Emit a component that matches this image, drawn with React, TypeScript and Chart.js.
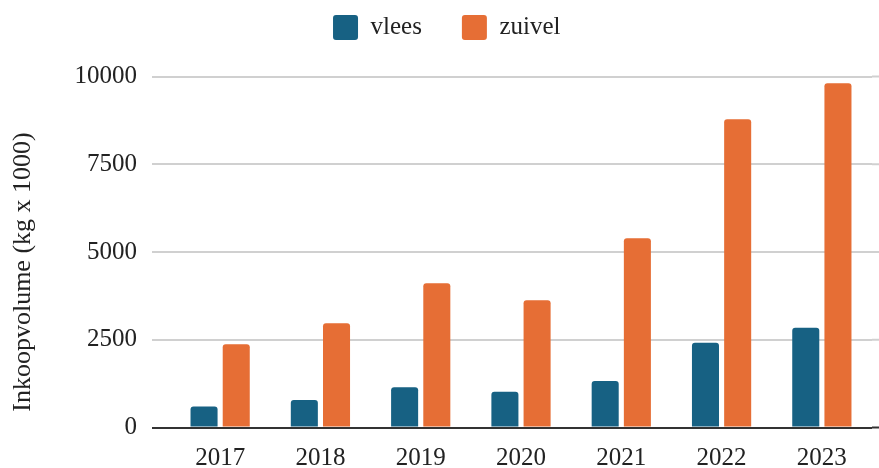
import React, { useEffect, useRef } from "react";
import { Chart, registerables } from "chart.js";

Chart.register(...registerables);

const years = ["2017", "2018", "2019", "2020", "2021", "2022", "2023"];
const vlees = [600, 785, 1145, 1020, 1325, 2415, 2845];
const zuivel = [2370, 2970, 4110, 3625, 5390, 8780, 9805];
const seriesNames = ["vlees", "zuivel"];
const seriesColors = ["#176183", "#e66e35"];
const yTitle = "Inkoopvolume (kg x 1000)";

const FONT = "'Liberation Serif', 'Times New Roman', serif";
const TEXT = "#222222";

export default function App() {
  const ref = useRef<HTMLCanvasElement | null>(null);

  useEffect(() => {
    document.body.style.margin = "0";
    const canvas = ref.current;
    if (!canvas) return;

    const legendFix = {
      id: "legendFix",
      beforeInit(chart: any) {
        const lg = chart.legend;
        if (lg) {
          const orig = lg.fit;
          lg.fit = function () {
            orig.call(this);
            this.height = 101.5;
          };
        }
      },
    };

    const extras = {
      id: "extras",
      afterDraw(chart: any) {
        const ctx = chart.ctx;
        const area = chart.chartArea;
        const y = chart.scales.y;
        ctx.save();
        y.ticks.forEach((t: any) => {
          const py = y.getPixelForValue(t.value);
          ctx.beginPath();
          ctx.lineWidth = 2;
          ctx.strokeStyle = t.value === 0 ? "#333333" : "#d0d0d0";
          ctx.moveTo(area.right, py);
          ctx.lineTo(area.right + 7, py);
          ctx.stroke();
        });
        ctx.translate(23, 272);
        ctx.rotate(-Math.PI / 2);
        ctx.font = `26px ${FONT}`;
        ctx.fillStyle = TEXT;
        ctx.textAlign = "center";
        ctx.textBaseline = "middle";
        ctx.fillText(yTitle, 0, 0);
        ctx.restore();
      },
    };

    const chart = new Chart(canvas, {
      type: "bar",
      data: {
        labels: years,
        datasets: [
          {
            label: seriesNames[0],
            data: vlees,
            backgroundColor: seriesColors[0],
            borderRadius: 3,
            categoryPercentage: 0.642,
            barPercentage: 0.84,
          },
          {
            label: seriesNames[1],
            data: zuivel,
            backgroundColor: seriesColors[1],
            borderRadius: 3,
            categoryPercentage: 0.642,
            barPercentage: 0.84,
          },
        ],
      },
      options: {
        animation: false,
        responsive: false,
        maintainAspectRatio: false,
        layout: { padding: { top: -25, left: 21.5, right: 7, bottom: 0 } },
        plugins: {
          legend: {
            position: "top",
            labels: {
              boxWidth: 25,
              boxHeight: 25,
              padding: 40,
              useBorderRadius: true,
              borderRadius: 3,
              color: TEXT,
              font: { family: FONT, size: 25 },
            },
          },
          tooltip: { enabled: false },
        },
        scales: {
          x: {
            grid: { display: false, drawTicks: false },
            border: { display: false },
            ticks: {
              color: TEXT,
              padding: 16,
              font: { family: FONT, size: 25 },
            },
            afterFit(scale: any) {
              scale.height = 40.5;
            },
          },
          y: {
            min: 0,
            max: 10000,
            border: { display: false },
            grid: {
              color: (c: any) => (c.tick && c.tick.value === 0 ? "#333333" : "#d0d0d0"),
              lineWidth: 2,
              drawTicks: true,
              tickLength: 18,
            },
            ticks: {
              stepSize: 2500,
              color: TEXT,
              padding: 15,
              font: { family: FONT, size: 25 },
              callback: (v: any) => String(v),
            },
            afterFit(scale: any) {
              scale.width = 148.5;
            },
          },
        },
      },
      plugins: [legendFix, extras],
    });

    return () => chart.destroy();
  }, []);

  return (
    <div style={{ width: 879, height: 468 }}>
      <canvas ref={ref} width={879} height={468} style={{ display: "block" }} />
    </div>
  );
}
